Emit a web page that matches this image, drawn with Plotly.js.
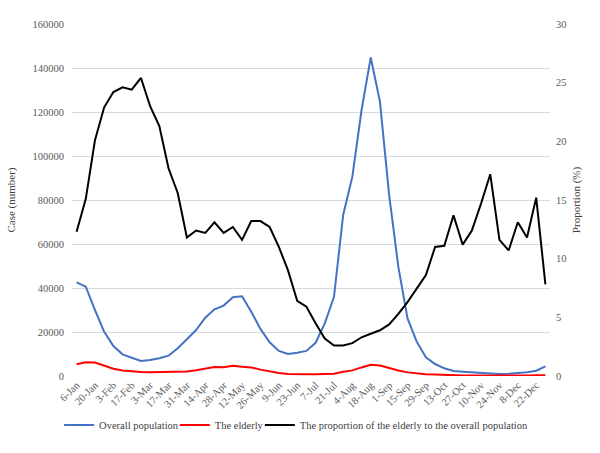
<!DOCTYPE html>
<html>
<head>
<meta charset="utf-8">
<script src="https://cdn.plot.ly/plotly-3.0.1.min.js"></script>
<style>html,body{margin:0;padding:0;background:#fff;}#chart{width:600px;height:453px;}</style>
</head>
<body>
<div id="chart"></div>
<script>
var weeks = ["6-Jan","13-Jan","20-Jan","27-Jan","3-Feb","10-Feb","17-Feb","24-Feb","3-Mar","10-Mar","17-Mar","24-Mar","31-Mar","7-Apr","14-Apr","21-Apr","28-Apr","5-May","12-May","19-May","26-May","2-Jun","9-Jun","16-Jun","23-Jun","30-Jun","7-Jul","14-Jul","21-Jul","28-Jul","4-Aug","11-Aug","18-Aug","25-Aug","1-Sep","8-Sep","15-Sep","22-Sep","29-Sep","6-Oct","13-Oct","20-Oct","27-Oct","3-Nov","10-Nov","17-Nov","24-Nov","1-Dec","8-Dec","15-Dec","22-Dec","29-Dec"];
var tickLabels = weeks.filter(function(d,i){return i%2===0;});

var overall = [42600,40600,30000,20100,13600,9850,8300,6800,7270,8030,9240,12580,16670,20900,26500,30300,32000,35800,36200,29200,21400,15300,11400,10000,10600,11400,15100,23900,36000,73200,90600,120900,144800,124700,82300,49700,26200,15600,8500,5450,3500,2270,1960,1670,1200,1000,900,1000,1200,1670,2400,4400];
var elderly = [5300,6200,6100,4650,3300,2500,2050,1800,1700,1750,1700,2050,2050,2650,3300,4050,4000,4650,4200,3900,2900,2050,1350,950,750,750,800,850,1000,1950,2550,3900,5100,4800,3600,2500,1650,1200,800,650,400,320,230,210,180,170,110,110,160,200,370,350];
var proportion = [12.3,15.1,20.1,22.9,24.2,24.6,24.4,25.4,23.0,21.3,17.7,15.6,11.8,12.4,12.2,13.1,12.2,12.7,11.6,13.2,13.2,12.7,11.0,9.0,6.4,5.9,4.5,3.2,2.6,2.6,2.8,3.3,3.6,3.9,4.4,5.3,6.3,7.5,8.6,11.0,11.1,13.7,11.2,12.4,14.7,17.2,11.6,10.7,13.1,11.8,15.2,7.8];

var fontFam = "'Liberation Serif', 'Times New Roman', serif";
var traces = [
  {x: weeks, y: overall, type: "scatter", mode: "lines", name: "Overall population",
   line: {color: "#4472C4", width: 2}, yaxis: "y", legend: "legend"},
  {x: weeks, y: elderly, type: "scatter", mode: "lines", name: "The elderly",
   line: {color: "#FF0000", width: 2}, yaxis: "y", legend: "legend2"},
  {x: weeks, y: proportion, type: "scatter", mode: "lines", name: "The proportion of the elderly to the overall population",
   line: {color: "#000000", width: 2}, yaxis: "y2", legend: "legend3"}
];

function leg(x) {
  return {orientation: "h", x: x, xanchor: "left", y: -0.139, yanchor: "middle",
          font: {family: fontFam, size: 10.5, color: "#404040"}, itemwidth: 30, bgcolor: "rgba(0,0,0,0)"};
}

var layout = {
  width: 600, height: 453,
  margin: {l: 72, r: 50, t: 24, b: 77},
  paper_bgcolor: "#ffffff", plot_bgcolor: "#ffffff",
  font: {family: fontFam, size: 10, color: "#595959"},
  showlegend: true,
  legend: leg(-0.027),
  legend2: leg(0.215),
  legend3: leg(0.393),
  xaxis: {type: "category", range: [-0.5, 51.5], tickmode: "array", tickvals: tickLabels, ticktext: tickLabels,
          tickangle: -45, showgrid: false, zeroline: false, showline: false, ticks: "",
          tickfont: {family: fontFam, size: 10.5, color: "#595959"}},
  yaxis: {range: [0, 160000], dtick: 20000, tickformat: "d", showgrid: true, gridcolor: "#d9d9d9", gridwidth: 1,
          zeroline: false, showline: false, ticks: "", ticklabelstandoff: 7,
          title: {text: "Case (number)", font: {family: fontFam, size: 11, color: "#404040"}, standoff: 14},
          tickfont: {family: fontFam, size: 10.5, color: "#595959"}},
  yaxis2: {range: [0, 30], dtick: 5, overlaying: "y", side: "right", showgrid: false, zeroline: false,
           showline: false, ticks: "", ticklabelstandoff: 5,
           title: {text: "Proportion (%)", font: {family: fontFam, size: 11, color: "#404040"}, standoff: 6},
           tickfont: {family: fontFam, size: 10.5, color: "#595959"}}
};

Plotly.newPlot("chart", traces, layout, {displayModeBar: false, staticPlot: true});
</script>
</body>
</html>
